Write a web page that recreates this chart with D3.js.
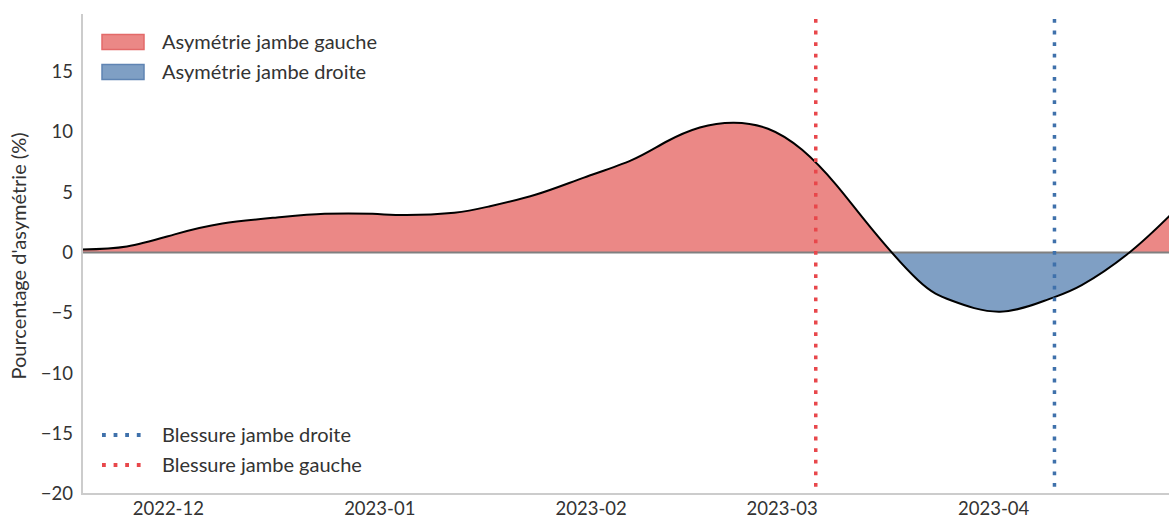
<!DOCTYPE html>
<html>
<head>
<meta charset="utf-8">
<script src="https://cdn.jsdelivr.net/npm/d3@7"></script>
<style>
  html, body { margin: 0; padding: 0; background: #fff; }
  svg { display: block; }
  text { font-family: Lato, "Open Sans", sans-serif; fill: #333; }
</style>
</head>
<body>
<svg id="chart" width="1169" height="521"></svg>
<script>
// Asymmetry measurements (percent, positive = left leg, negative = right leg)
const dates = [
  "2022-11-18", "2022-11-25", "2022-12-02", "2022-12-09", "2022-12-17",
  "2022-12-24", "2022-12-31", "2023-01-05", "2023-01-12", "2023-01-17",
  "2023-01-24", "2023-01-31", "2023-02-07", "2023-02-12", "2023-02-17",
  "2023-02-22", "2023-02-27", "2023-03-04", "2023-03-09", "2023-03-14",
  "2023-03-21", "2023-03-26", "2023-04-02", "2023-04-09", "2023-04-14",
  "2023-04-21", "2023-04-27"
];
const asymmetry = [
  0.25, 0.5, 1.5, 2.4, 2.9,
  3.2, 3.2, 3.1, 3.3, 3.8,
  4.8, 6.2, 7.65, 9.15, 10.35,
  10.75, 10.25, 8.5, 5.6, 2.1,
  -2.3, -4.0, -4.9, -3.9, -2.7,
  0.0, 3.1
];

// Injury dates
const injuryLeftDate = "2023-03-06";
const injuryRightDate = "2023-04-10";

// Axis settings
const xDomain = ["2022-11-18T10:00:00Z", "2023-04-26T19:00:00Z"];
const yDomain = [-20, 19.75];
const yTicks = [-20, -15, -10, -5, 0, 5, 10, 15];

// Labels
const yLabel = "Pourcentage d'asymétrie (%)";
const areaLegend = ["Asymétrie jambe gauche", "Asymétrie jambe droite"];
const lineLegend = ["Blessure jambe droite", "Blessure jambe gauche"];

const colors = {
  leftFill: "#eb8886", leftEdge: "#e36a69",
  rightFill: "#7f9fc4", rightEdge: "#5f84b3",
  leftInjury: "#e8474b", rightInjury: "#3f71ab",
  spine: "#cccccc", zero: "#808080"
};

const tickFont = "18.5px";
const labelFont = "20px";

const margin = { left: 82, right: 0, top: 14, bottom: 27 };
const W = 1169, H = 521;

const parse = d3.utcParse("%Y-%m-%d");
const data = dates.map((d, i) => ({ date: parse(d), value: asymmetry[i] }));

const svg = d3.select("#chart");

const x = d3.scaleUtc()
  .domain(xDomain.map(d => new Date(d)))
  .range([margin.left, W - margin.right]);
const y = d3.scaleLinear()
  .domain(yDomain)
  .range([H - margin.bottom, margin.top]);

const defs = svg.append("defs");
defs.append("clipPath").attr("id", "plot-clip")
  .append("rect")
  .attr("x", margin.left).attr("y", margin.top)
  .attr("width", W - margin.left - margin.right)
  .attr("height", H - margin.top - margin.bottom);
defs.append("clipPath").attr("id", "above-zero")
  .append("rect")
  .attr("x", margin.left).attr("y", margin.top)
  .attr("width", W - margin.left)
  .attr("height", y(0) - margin.top);
defs.append("clipPath").attr("id", "below-zero")
  .append("rect")
  .attr("x", margin.left).attr("y", y(0))
  .attr("width", W - margin.left)
  .attr("height", H - margin.bottom - y(0));

const curve = d3.curveNatural;

const area = d3.area()
  .x(d => x(d.date))
  .y0(y(0))
  .y1(d => y(d.value))
  .curve(curve);
const line = d3.line()
  .x(d => x(d.date))
  .y(d => y(d.value))
  .curve(curve);

const plot = svg.append("g").attr("clip-path", "url(#plot-clip)");

// Filled regions on each side of zero
plot.append("g").attr("clip-path", "url(#above-zero)")
  .append("path").datum(data)
  .attr("d", area).attr("fill", colors.leftFill);
plot.append("g").attr("clip-path", "url(#below-zero)")
  .append("path").datum(data)
  .attr("d", area).attr("fill", colors.rightFill);

// Zero reference line
plot.append("line")
  .attr("x1", margin.left).attr("x2", W)
  .attr("y1", y(0)).attr("y2", y(0))
  .attr("stroke", colors.zero).attr("stroke-width", 2);

// Asymmetry curve
plot.append("path").datum(data)
  .attr("d", line)
  .attr("fill", "none")
  .attr("stroke", "#000")
  .attr("stroke-width", 2);

// Injury markers
const injuries = [
  { date: parse(injuryLeftDate), color: colors.leftInjury },
  { date: parse(injuryRightDate), color: colors.rightInjury }
];
plot.selectAll("line.injury").data(injuries).join("line")
  .attr("class", "injury")
  .attr("x1", d => x(d.date)).attr("x2", d => x(d.date))
  .attr("y1", y(yDomain[1]) + 5).attr("y2", H - margin.bottom)
  .attr("stroke", d => d.color)
  .attr("stroke-width", 3.5)
  .attr("stroke-dasharray", "3.8,7.8");

// Spines
svg.append("line")
  .attr("x1", margin.left).attr("x2", margin.left)
  .attr("y1", margin.top).attr("y2", H - margin.bottom + 1)
  .attr("stroke", colors.spine).attr("stroke-width", 2);
svg.append("line")
  .attr("x1", margin.left - 1).attr("x2", W)
  .attr("y1", H - margin.bottom).attr("y2", H - margin.bottom)
  .attr("stroke", colors.spine).attr("stroke-width", 2);

// Axes (labels only, no tick marks)
const yAxis = d3.axisLeft(y)
  .tickValues(yTicks)
  .tickSize(0)
  .tickPadding(9)
  .tickFormat(d => d < 0 ? "\u2212" + Math.abs(d) : String(d));
const gy = svg.append("g")
  .attr("transform", `translate(${margin.left},0)`)
  .call(yAxis);
gy.select(".domain").remove();
gy.selectAll("text").style("font-size", tickFont).attr("fill", "#333");

const xAxis = d3.axisBottom(x)
  .ticks(d3.utcMonth.every(1))
  .tickSize(0)
  .tickPadding(8)
  .tickFormat(d3.utcFormat("%Y-%m"));
const gx = svg.append("g")
  .attr("transform", `translate(0,${H - margin.bottom})`)
  .call(xAxis);
gx.select(".domain").remove();
gx.selectAll("text").style("font-size", tickFont).attr("fill", "#333");

// Y axis title
svg.append("text")
  .attr("transform", `translate(26,${(margin.top + H - margin.bottom) / 2 + 2}) rotate(-90)`)
  .attr("text-anchor", "middle")
  .style("font-size", labelFont)
  .text(yLabel);

// Area legend
const areaItems = [
  { label: areaLegend[0], fill: colors.leftFill, edge: colors.leftEdge },
  { label: areaLegend[1], fill: colors.rightFill, edge: colors.rightEdge }
];
const lgA = svg.append("g");
areaItems.forEach((d, i) => {
  const cy = 42 + i * 30;
  lgA.append("rect")
    .attr("x", 102).attr("y", cy - 7.5)
    .attr("width", 42).attr("height", 15)
    .attr("fill", d.fill).attr("stroke", d.edge).attr("stroke-width", 1.5);
  lgA.append("text")
    .attr("x", 162).attr("y", cy)
    .attr("dy", "0.35em")
    .style("font-size", labelFont)
    .text(d.label);
});

// Injury legend
const lineItems = [
  { label: lineLegend[0], color: colors.rightInjury },
  { label: lineLegend[1], color: colors.leftInjury }
];
const lgL = svg.append("g");
lineItems.forEach((d, i) => {
  const cy = 435 + i * 30;
  lgL.append("line")
    .attr("x1", 102).attr("x2", 146)
    .attr("y1", cy).attr("y2", cy)
    .attr("stroke", d.color).attr("stroke-width", 3.8)
    .attr("stroke-dasharray", "3.8,7.8");
  lgL.append("text")
    .attr("x", 162).attr("y", cy)
    .attr("dy", "0.35em")
    .style("font-size", labelFont)
    .text(d.label);
});
</script>
</body>
</html>
